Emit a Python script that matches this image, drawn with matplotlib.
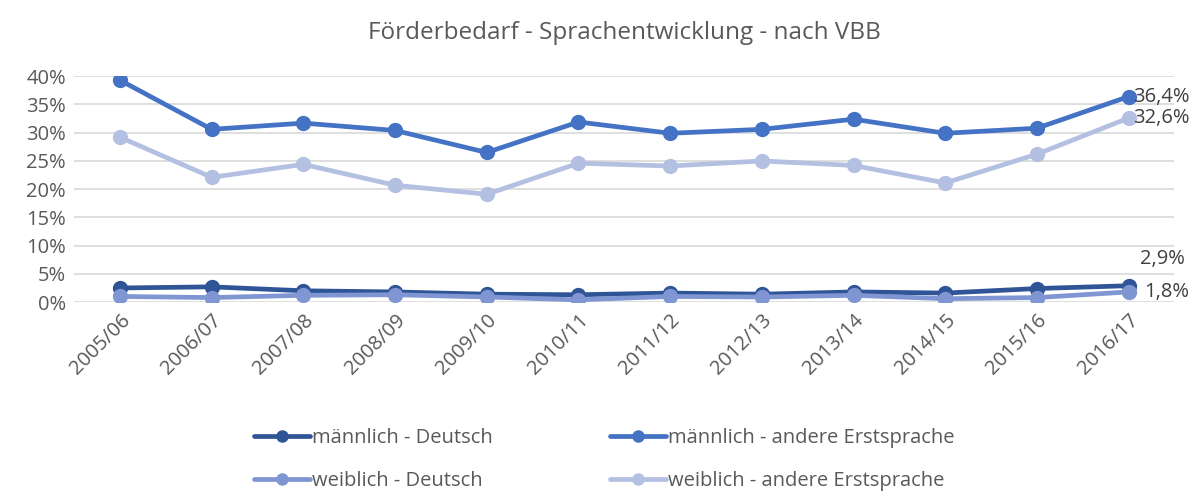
import matplotlib.pyplot as plt
from matplotlib.ticker import FuncFormatter

years = ['2005/06', '2006/07', '2007/08', '2008/09', '2009/10', '2010/11',
         '2011/12', '2012/13', '2013/14', '2014/15', '2015/16', '2016/17']

# values in percent
m_deutsch = [2.5, 2.7, 2.0, 1.8, 1.4, 1.3, 1.6, 1.4, 1.8, 1.6, 2.4, 2.9]
m_andere = [39.3, 30.6, 31.7, 30.4, 26.5, 31.9, 29.9, 30.6, 32.4, 29.9, 30.8, 36.4]
w_deutsch = [1.0, 0.8, 1.2, 1.3, 0.9, 0.4, 1.0, 0.9, 1.2, 0.6, 0.8, 1.8]
w_andere = [29.2, 22.1, 24.4, 20.7, 19.1, 24.6, 24.1, 25.0, 24.2, 21.1, 26.2, 32.6]

series = [
    ('männlich - Deutsch', m_deutsch, '#2F5597'),
    ('männlich - andere Erstsprache', m_andere, '#4472C4'),
    ('weiblich - Deutsch', w_deutsch, '#7F96D2'),
    ('weiblich - andere Erstsprache', w_andere, '#B4C0E2'),
]

plt.rcParams['font.family'] = ['Open Sans', 'DejaVu Sans']
grey = '#595959'
fs = 14.5

fig = plt.figure(figsize=(11.96, 4.92), dpi=100)
ax = fig.add_axes([0.062, 0.386, 0.920, 0.459])

x = list(range(len(years)))
lines = {}
for name, vals, col in [series[0], series[2], series[1], series[3]]:
    ln, = ax.plot(x, [v / 100 for v in vals], color=col, lw=3.4, marker='o',
                  markersize=10, label=name, solid_capstyle='round', zorder=3)
    lines[name] = ln

ax.set_xlim(-0.5, len(years) - 0.5)
ax.set_ylim(0, 0.40)
ax.set_yticks([i * 0.05 for i in range(9)])
ax.yaxis.set_major_formatter(FuncFormatter(lambda v, p: f'{v * 100:.0f}%'))
ax.grid(axis='y', color='#d9d9d9', lw=1.2)
ax.set_axisbelow(True)
for s in ax.spines.values():
    s.set_visible(False)
ax.tick_params(length=0, labelsize=fs, colors=grey)
ax.set_xticks(x)
ax.set_xticklabels(years, rotation=45, ha='right', rotation_mode='anchor')
ax.tick_params(axis='x', pad=6)
ax.tick_params(axis='y', pad=6)

ax.set_title('Förderbedarf - Sprachentwicklung - nach VBB', fontsize=17.5,
             color=grey, pad=27)

# end value labels
last = len(years) - 1
lab = lambda v: f'{v:.1f}%'.replace('.', ',')
dark = '#404040'
ax.annotate(lab(m_andere[-1]), (last, m_andere[-1] / 100), xytext=(3, 0),
            textcoords='offset points', va='center', ha='left', fontsize=fs, color=dark,
            annotation_clip=False)
ax.annotate(lab(w_andere[-1]), (last, w_andere[-1] / 100), xytext=(3, 0),
            textcoords='offset points', va='center', ha='left', fontsize=fs, color=dark,
            annotation_clip=False)
ax.annotate(lab(m_deutsch[-1]), (last, m_deutsch[-1] / 100), xytext=(8, 19),
            textcoords='offset points', va='center', ha='left', fontsize=fs, color=dark,
            annotation_clip=False)
ax.annotate(lab(w_deutsch[-1]), (last, w_deutsch[-1] / 100), xytext=(11, 0),
            textcoords='offset points', va='center', ha='left', fontsize=fs, color=dark,
            annotation_clip=False)

# column-first order so rows read: männlich..., weiblich...
leg_order = [series[0][0], series[2][0], series[1][0], series[3][0]]
fig.legend([lines[n] for n in leg_order], leg_order,
           loc='lower center', bbox_to_anchor=(0.505, -0.035), ncol=2,
           frameon=False, fontsize=fs, labelcolor=grey, handlelength=2.8,
           handletextpad=0.1, columnspacing=5.8, labelspacing=1.15,
           markerscale=0.8)

fig.savefig('out.png', dpi=100)
